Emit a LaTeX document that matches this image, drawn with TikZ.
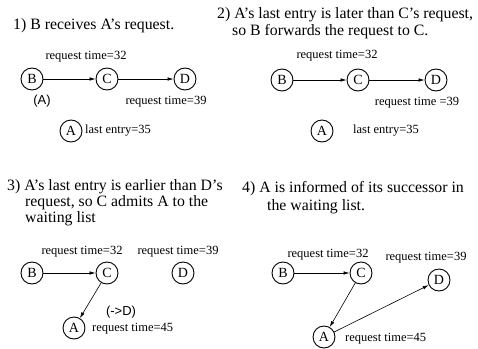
\documentclass[tikz,border=0pt]{standalone}
\usepackage{fontspec}
\setmainfont{Liberation Serif}
\newfontfamily\lsans{Liberation Sans}
\usetikzlibrary{arrows.meta}
\begin{document}
\begin{tikzpicture}[x=1pt,y=-1pt,
 nd/.style={draw,circle,minimum size=22pt,inner sep=0pt,line width=0.9pt,font=\fontsize{14}{14}\selectfont},
 ttl/.style={anchor=west,inner sep=0pt,font=\fontsize{15.8}{16}\selectfont},
 lbl/.style={inner sep=0pt,font=\fontsize{12.5}{13}\selectfont},
 sl/.style={inner sep=0pt,font=\lsans\fontsize{13}{13}\selectfont},
 arr/.style={-{Latex[length=6pt,width=3.5pt]},line width=0.6pt}]
\useasboundingbox (0,0) rectangle (478,348);
\clip (0,0) rectangle (478,348);
% panel 1
\node[ttl] (t1) at (13,26) {1) B receives A's request.};
\node[lbl] (r1a) at (86,57) {request time=32};
\node[nd] (B1) at (32,79) {B};
\node[nd] (C1) at (107,79) {C};
\node[nd] (D1) at (185,79) {D};
\node[sl] (a1) at (42,101) {(A)};
\node[lbl] (r1b) at (166,102) {request time=39};
\node[nd] (A1) at (71,131) {A};
\node[lbl,anchor=west] (l1) at (85,131) {last entry=35};
\draw[arr] (B1) -- (C1);
\draw[arr] (C1) -- (D1);
% panel 2
\node[ttl] (t2a) at (217,15) {2) A's last entry is later than C's request,};
\node[ttl] (t2b) at (232,32) {so B forwards the request to C.};
\node[lbl] (r2a) at (337,56) {request time=32};
\node[nd] (B2) at (282,80) {B};
\node[nd] (C2) at (358,80) {C};
\node[nd] (D2) at (436,80) {D};
\node[lbl] (r2b) at (417,103) {request time =39};
\node[nd] (A2) at (322,131) {A};
\node[lbl,anchor=west] (l2) at (353,131) {last entry=35};
\draw[arr] (B2) -- (C2);
\draw[arr] (C2) -- (D2);
% panel 3
\node[ttl] (t3a) at (7,187) {3) A's last entry is earlier than D's};
\node[ttl] (t3b) at (25,203) {request, so C admits A to the};
\node[ttl] (t3c) at (25,219) {waiting list};
\node[lbl] (r3a) at (82,252) {request time=32};
\node[lbl] (r3b) at (178,252) {request time=39};
\node[nd] (B3) at (32,273) {B};
\node[nd] (C3) at (107,273) {C};
\node[nd] (D3) at (183,273) {D};
\node[sl] (g3) at (121,312) {(->D)};
\node[nd] (A3) at (74,328) {A};
\node[lbl,anchor=west] (r3c) at (92,329) {request time=45};
\draw[arr] (B3) -- (C3);
\draw[arr] (C3) -- (A3);
% panel 4
\node[ttl] (t4a) at (242,189) {4) A is informed of its successor in};
\node[ttl] (t4b) at (267,207) {the waiting list.};
\node[lbl] (r4a) at (328,255) {request time=32};
\node[lbl] (r4b) at (426,258) {request time=39};
\node[nd] (B4) at (283,273) {B};
\node[nd] (C4) at (361,273) {C};
\node[nd] (D4) at (439,280) {D};
\node[nd] (A4) at (324,337) {A};
\node[lbl,anchor=west] (r4c) at (345,339) {request time=45};
\draw[arr] (B4) -- (C4);
\draw[arr] (C4) -- (A4);
\draw[arr] (A4) -- (D4);
\end{tikzpicture}
\end{document}
